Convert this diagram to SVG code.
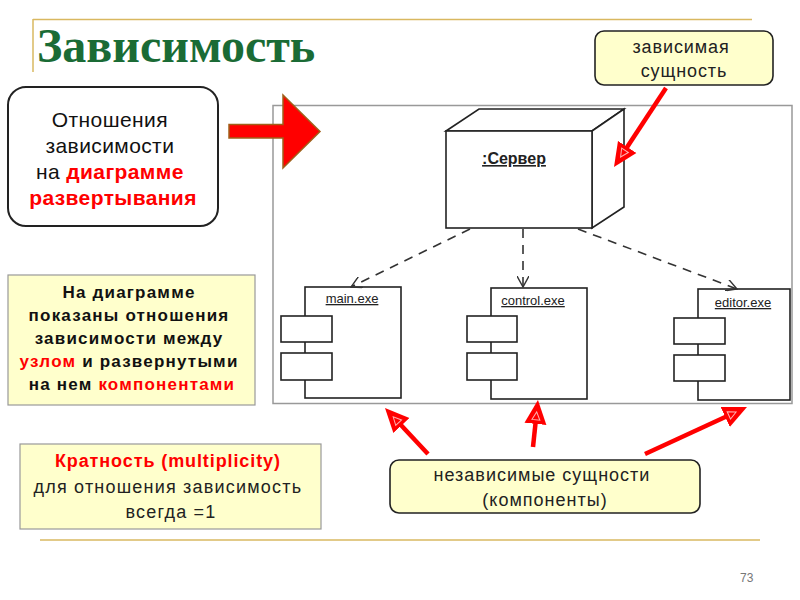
<svg xmlns="http://www.w3.org/2000/svg" width="800" height="600" viewBox="0 0 800 600">
<style>
.sans{font-family:"Liberation Sans",Arial,sans-serif}
.lbl{font-family:"Liberation Sans",Arial,sans-serif;font-size:13px;fill:#222;text-decoration:underline}
.uml{fill:#fff;stroke:#222;stroke-width:1.6}
.dep{fill:none;stroke:#333;stroke-width:1.6;stroke-dasharray:9 7}
.red{stroke:#ff0000;stroke-width:4.5;fill:none}
.note{fill:#ffffcc;stroke:#999;stroke-width:1.2}
.call{fill:#ffffcc;stroke:#222;stroke-width:1.6}
</style>
<defs>
<marker id="open" viewBox="0 0 12 12" refX="11" refY="6" markerWidth="12" markerHeight="12" markerUnits="userSpaceOnUse" orient="auto">
<path d="M0,0 L11,6 L0,12" fill="none" stroke="#333" stroke-width="1.4"/>
</marker>
<marker id="redhead" viewBox="0 0 24 24" refX="12" refY="12" markerWidth="24" markerHeight="24" markerUnits="userSpaceOnUse" orient="auto">
<path d="M0,1 L24,12 L0,23 z" fill="#ff0000"/>
<path d="M4,8 L12,12 L4,16 z" fill="none" stroke="#ffb0b0" stroke-width="1"/>
</marker>
</defs>

<!-- title decoration -->
<g id="title">
<line x1="33" y1="19.5" x2="752" y2="19.5" stroke="#d9b860" stroke-width="1.5"/>
<line x1="33" y1="19" x2="33" y2="72" stroke="#d9b860" stroke-width="1.5"/>
<text x="37" y="62" font-family="'Liberation Serif','Times New Roman',serif" font-weight="bold" font-size="48" fill="#1a6b35">Зависимость</text>
</g>
<line x1="40" y1="540" x2="760" y2="540" stroke="#d9b860" stroke-width="1.5"/>
<text x="740" y="582" class="sans" font-size="12" fill="#777">73</text>

<!-- diagram frame -->
<rect x="273" y="105.5" width="519" height="298" fill="#fff" stroke="#999" stroke-width="1.5"/>

<!-- big red arrow -->
<polygon points="229,124.5 283,124.5 283,95 320,131.5 283,168 283,138 229,138" fill="#ff0000" stroke="#a0601a" stroke-width="1.5"/>

<g id="rel-box">
<rect x="8" y="87" width="210" height="139" rx="18" fill="#fff" stroke="#222" stroke-width="2"/>
<text class="sans" font-size="21" text-anchor="middle" fill="#111" letter-spacing="0.4">
<tspan x="113" y="127">Отношения</tspan>
<tspan x="113" y="153">зависимости</tspan>
<tspan x="113" y="179">на <tspan fill="#ff0000" font-weight="bold">диаграмме</tspan></tspan>
<tspan x="113" y="205" fill="#ff0000" font-weight="bold">развертывания</tspan>
</text>
</g>

<g id="server">
<polygon points="446,131 479,109 624,109 592,131" class="uml"/>
<polygon points="592,131 624,109 624,207 592,228" class="uml"/>
<rect x="446" y="131" width="146" height="97" class="uml"/>
<text x="514" y="164" text-anchor="middle" class="lbl" style="font-size:16px;font-weight:bold">:Сервер</text>
</g>

<g id="main-exe">
<rect x="305" y="287" width="96" height="111" class="uml"/>
<rect x="281" y="316" width="51" height="26" class="uml"/>
<rect x="281" y="353" width="51" height="27" class="uml"/>
<text x="352" y="303" text-anchor="middle" class="lbl">main.exe</text>
</g>

<g id="control-exe">
<rect x="491" y="288" width="96" height="111" class="uml"/>
<rect x="467" y="316" width="50" height="26" class="uml"/>
<rect x="467" y="353" width="50" height="27" class="uml"/>
<text x="533" y="305" text-anchor="middle" class="lbl">control.exe</text>
</g>

<g id="editor-exe">
<rect x="698" y="289" width="92" height="111" class="uml"/>
<rect x="674" y="318" width="51" height="26" class="uml"/>
<rect x="674" y="355" width="51" height="26" class="uml"/>
<text x="743" y="307" text-anchor="middle" class="lbl">editor.exe</text>
</g>

<g id="connectors">
<line x1="470" y1="229" x2="351" y2="287" class="dep" marker-end="url(#open)"/>
<line x1="523" y1="229" x2="523" y2="287" class="dep" marker-end="url(#open)"/>
<line x1="578" y1="229" x2="737" y2="289" class="dep" marker-end="url(#open)"/>
<line x1="666" y1="88" x2="620.6" y2="157" class="red" marker-end="url(#redhead)"/>
<line x1="428" y1="454" x2="393.2" y2="416.8" class="red" marker-end="url(#redhead)"/>
<line x1="533" y1="447" x2="536.7" y2="411.9" class="red" marker-end="url(#redhead)"/>
<line x1="645" y1="454" x2="736.1" y2="412" class="red" marker-end="url(#redhead)"/>
</g>

<g id="dependent-callout">
<rect x="595" y="31" width="178" height="54" rx="9" class="call"/>
<text class="sans" font-size="18" text-anchor="middle" fill="#222" letter-spacing="0.9">
<tspan x="684" y="53">зависимая</tspan>
<tspan x="684" y="77">сущность</tspan>
</text>
</g>

<g id="independent-callout">
<rect x="390" y="460" width="310" height="53" rx="9" class="call"/>
<text class="sans" font-size="18" text-anchor="middle" fill="#222" letter-spacing="1">
<tspan x="545" y="481">независимые сущности</tspan>
<tspan x="545" y="506">(компоненты)</tspan>
</text>
</g>

<g id="note-components">
<rect x="8" y="275" width="247" height="130" class="note"/>
<text class="sans" font-size="17" font-weight="bold" text-anchor="middle" fill="#111" letter-spacing="1.2">
<tspan x="132" y="298">На диаграмме</tspan>
<tspan x="132" y="321">показаны отношения</tspan>
<tspan x="132" y="344">зависимости между</tspan>
<tspan x="132" y="367"><tspan fill="#ff0000">узлом</tspan> и развернутыми</tspan>
<tspan x="132" y="390">на нем <tspan fill="#ff0000">компонентами</tspan></tspan>
</text>
</g>

<g id="note-multiplicity">
<rect x="20" y="444" width="301" height="85" class="note"/>
<text class="sans" font-size="18" text-anchor="middle" fill="#222" letter-spacing="1.2">
<tspan x="171" y="467" fill="#ff0000" font-weight="bold" letter-spacing="0.9">Кратность (multiplicity)</tspan>
<tspan x="171" y="493">для отношения зависимость</tspan>
<tspan x="171" y="518">всегда =1</tspan>
</text>
</g>
</svg>
